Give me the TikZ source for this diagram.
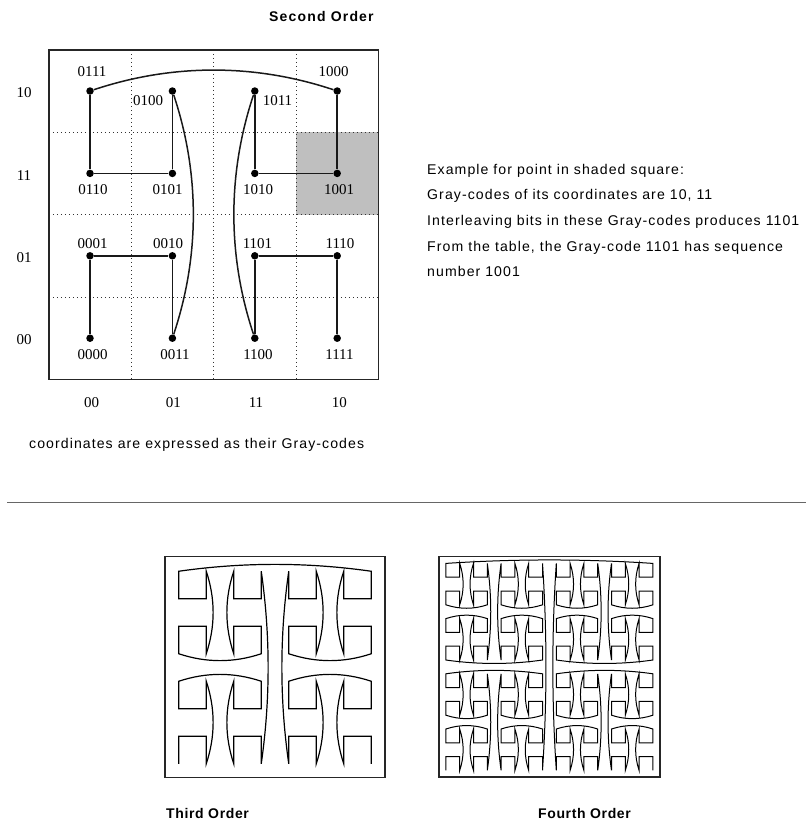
\documentclass[tikz,border=0pt]{standalone}
\usepackage{fontspec}
\setmainfont{Liberation Serif}
\newfontfamily\sansA[LetterSpace=7.6]{Liberation Sans}
\newfontfamily\sansB[LetterSpace=8.5]{Liberation Sans}
\newfontfamily\sansC[LetterSpace=4.5]{Liberation Sans}
\usetikzlibrary{calc}

% ---------- Gray-code curve computation ----------
\newcount\hcT \newcount\hcP \newcount\hcI \newcount\hcJ \newcount\hcK
\newcount\hcB \newcount\hcW \newcount\hcS \newcount\hcN \newcount\hcOrd
\newcount\hcIa \newcount\hcJa \newcount\hcIb \newcount\hcJb
\newcount\hcIc \newcount\hcJc \newcount\hcD \newcount\hcE \newcount\hcBow
\def\hcBit{\hcB=\hcT \divide\hcB by 2 \multiply\hcB by -2 \advance\hcB by \hcT
  \ifnum\hcB=1 \hcP=\numexpr1-\hcP\relax\fi \divide\hcT by 2 }
\def\hcParity{\ifnum\hcT>0 \hcBit\expandafter\hcParity\fi}
\def\hcPeel{\ifnum\hcK<\hcOrd
  \ifnum\hcP=1 \advance\hcJ by \hcW\fi
  \hcBit
  \ifnum\hcP=1 \advance\hcI by \hcW\fi
  \hcBit
  \multiply\hcW by 2 \advance\hcK by 1
  \expandafter\hcPeel\fi}
\def\hcCompute{\hcT=\hcS \hcP=0 \hcParity
  \hcT=\hcS \hcI=0 \hcJ=0 \hcW=1 \hcK=0 \hcPeel}
\def\hcLoop#1{%
  \ifnum\hcS<\hcN
    \hcCompute
    \ifnum\hcS=0
      \xdef#1{(\the\hcI,\the\hcJ)}%
    \else
      \hcD=\numexpr\hcI-\hcIa\relax \hcE=\numexpr\hcJ-\hcJa\relax
      \ifnum\numexpr\hcD*\hcD+\hcE*\hcE\relax=1
        \xdef#1{#1 -- (\the\hcI,\the\hcJ)}%
      \else
        \ifnum\hcE=0
          \hcBow=\numexpr\hcJa-\hcJb\relax
          \xdef#1{#1 .. controls ({\the\hcIa+(\the\hcD)/3},{\the\hcJa+(\the\hcBow)/3}) and ({\the\hcI-(\the\hcD)/3},{\the\hcJ+(\the\hcBow)/3}) .. (\the\hcI,\the\hcJ)}%
        \else
          \hcBow=\numexpr\hcIa-\hcIc\relax
          \xdef#1{#1 .. controls ({\the\hcIa+(\the\hcBow)/3},{\the\hcJa+(\the\hcE)/3}) and ({\the\hcI+(\the\hcBow)/3},{\the\hcJ-(\the\hcE)/3}) .. (\the\hcI,\the\hcJ)}%
        \fi
      \fi
    \fi
    \hcIc=\hcIb \hcJc=\hcJb \hcIb=\hcIa \hcJb=\hcJa \hcIa=\hcI \hcJa=\hcJ
    \advance\hcS by 1
    \expandafter\hcLoop\expandafter#1%
  \fi}
\def\hcBuild#1#2#3{\hcOrd=#1\relax \hcN=#2\relax \hcS=0 \gdef#3{}\hcLoop#3}
\hcBuild{3}{64}{\hcpathC}
\hcBuild{4}{256}{\hcpathD}
\def\hcDraw#1#2{\edef\hcTmp{\noexpand\draw[#1] #2;}\hcTmp}

\tikzset{
  dot/.style={circle, fill=black, inner sep=0pt, minimum size=7.5pt},
  lab/.style={font={\fontsize{15}{17}\selectfont}, inner sep=0pt, anchor=base},
  txt/.style={font={\sansA\fontsize{14.1}{16}\selectfont}, inner sep=0pt, anchor=base west},
  ttl/.style={font={\sansB\bfseries\fontsize{14}{16}\selectfont}, inner sep=0pt, anchor=base west},
  ttlb/.style={font={\sansC\bfseries\fontsize{14}{16}\selectfont}, inner sep=0pt, anchor=base west},
  gridln/.style={black!80, line width=1pt, dash pattern=on 1.2pt off 2.8pt},
  boxst/.style={draw=black!85, line width=1.8pt},
  seg/.style={black!90, line width=1.5pt},
  curveC/.style={black, line width=1.2pt},
  curveD/.style={black, line width=1pt},
}

\begin{document}
\begin{tikzpicture}[x=1pt,y=-1pt]
\useasboundingbox (0,0) rectangle (806,823);

% ---------------- Second order ----------------
\node[ttl] (title2) at (269,21) {Second Order};

\fill[black!25] (296,132.2) rectangle (378.4,214.6);
\foreach \gx in {131.2,213.6,296} \draw[gridln] (\gx,49.8) -- (\gx,379.4);
\foreach \gy in {132.2,214.6,297} \draw[gridln] (48.8,\gy) -- (378.4,\gy);
\draw[boxst] (48.8,49.8) rectangle (378.4,379.4);

\node[dot] (g0000) at (90,338.2) {};
\node[dot] (g0001) at (90,255.8) {};
\node[dot] (g0010) at (172.4,255.8) {};
\node[dot] (g0011) at (172.4,338.2) {};
\node[dot] (g0100) at (172.4,91) {};
\node[dot] (g0101) at (172.4,173.4) {};
\node[dot] (g0110) at (90,173.4) {};
\node[dot] (g0111) at (90,91) {};
\node[dot] (g1000) at (337.2,91) {};
\node[dot] (g1001) at (337.2,173.4) {};
\node[dot] (g1010) at (254.8,173.4) {};
\node[dot] (g1011) at (254.8,91) {};
\node[dot] (g1100) at (254.8,338.2) {};
\node[dot] (g1101) at (254.8,255.8) {};
\node[dot] (g1110) at (337.2,255.8) {};
\node[dot] (g1111) at (337.2,338.2) {};

\draw[seg] (g0000) -- (g0001) -- (g0010) -- (g0011);
\draw[seg] (g0011) .. controls ($(g0011.center)+(27.5,-82.4)$) and ($(g0100.center)+(27.5,82.4)$) .. (g0100);
\draw[seg] (g0100) -- (g0101) -- (g0110) -- (g0111);
\draw[seg] (g0111) .. controls ($(g0111.center)+(82.4,-27.5)$) and ($(g1000.center)+(-82.4,-27.5)$) .. (g1000);
\draw[seg] (g1000) -- (g1001) -- (g1010) -- (g1011);
\draw[seg] (g1011) .. controls ($(g1011.center)+(-27.5,82.4)$) and ($(g1100.center)+(-27.5,-82.4)$) .. (g1100);
\draw[seg] (g1100) -- (g1101) -- (g1110) -- (g1111);

\node[lab] (l0111) at (92,76.5) {0111};
\node[lab] (l1000) at (333.5,76.5) {1000};
\node[lab] (l0100) at (148,105.5) {0100};
\node[lab] (l1011) at (277.5,105.5) {1011};
\node[lab] (l0110) at (93,194) {0110};
\node[lab] (l0101) at (167.5,194) {0101};
\node[lab] (l1010) at (258,194) {1010};
\node[lab] (l1001) at (339,194) {1001};
\node[lab] (l0001) at (92.5,248.3) {0001};
\node[lab] (l0010) at (168,248.3) {0010};
\node[lab] (l1101) at (257.5,248.3) {1101};
\node[lab] (l1110) at (340,248.3) {1110};
\node[lab] (l0000) at (92.5,359) {0000};
\node[lab] (l0011) at (175,359) {0011};
\node[lab] (l1100) at (258,359) {1100};
\node[lab] (l1111) at (339.5,359) {1111};

\node[lab] (r3) at (24,97.7) {10};
\node[lab] (r2) at (24,180.7) {11};
\node[lab] (r1) at (24,262.7) {01};
\node[lab] (r0) at (24,344) {00};
\node[lab] (c0) at (91.7,407.3) {00};
\node[lab] (c1) at (173.3,407.3) {01};
\node[lab] (c2) at (256,407.3) {11};
\node[lab] (c3) at (339.3,407.3) {10};

\node[txt] (cap) at (29,448) {coordinates are expressed as their Gray-codes};

\node[txt] (e1) at (427,174) {Example for point in shaded square:};
\node[txt] (e2) at (427,199.3) {Gray-codes of its coordinates are 10, 11};
\node[txt] (e3) at (427,225.3) {Interleaving bits in these Gray-codes produces 1101};
\node[txt] (e4) at (427,251) {From the table, the Gray-code 1101 has sequence};
\node[txt] (e5) at (427,276.7) {number 1001};

% separator
\draw[black!60, line width=1.3pt] (7,502.7) -- (806,502.7);

% ---------------- Third order ----------------
\draw[boxst] (165,556.5) rectangle (385,777.5);
\begin{scope}[shift={(178.75,763.75)}, x=27.5pt, y=27.5pt]
  \hcDraw{curveC}{\hcpathC}
\end{scope}
\node[ttlb] (title3) at (166,818) {Third Order};

% ---------------- Fourth order ----------------
\draw[boxst] (439,556.5) rectangle (659.8,777.3);
\begin{scope}[shift={(445.9,770.4)}, x=13.8pt, y=13.8pt]
  \hcDraw{curveD}{\hcpathD}
\end{scope}
\node[ttlb] (title4) at (538,818) {Fourth Order};

\end{tikzpicture}
\end{document}
